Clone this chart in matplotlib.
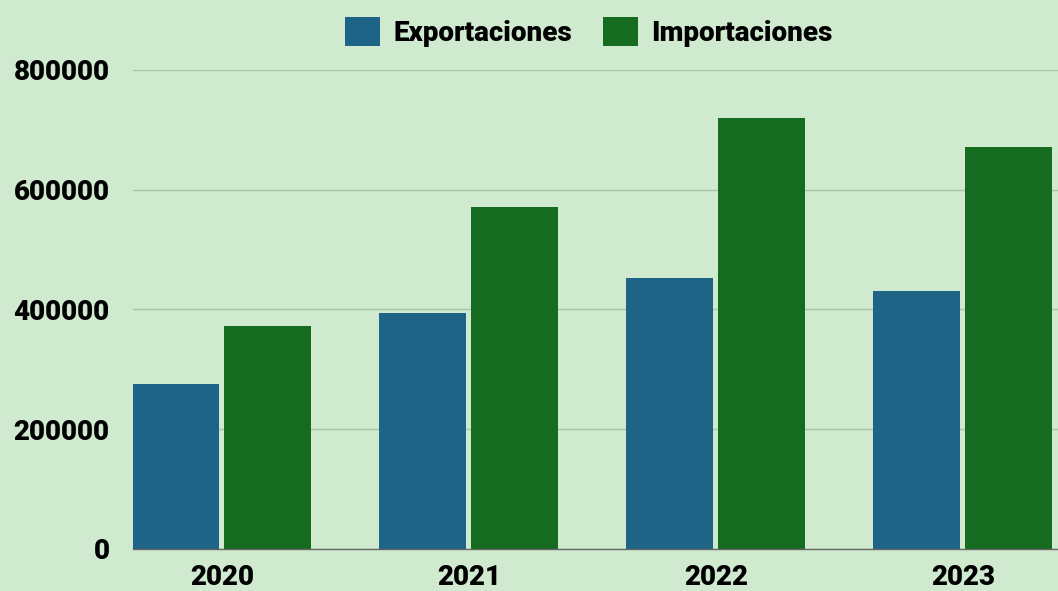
import numpy as np
import matplotlib.pyplot as plt
from matplotlib.patches import Patch

plt.rcParams['font.family'] = ['Roboto', 'DejaVu Sans']
plt.rcParams['font.weight'] = 'heavy'

years = ["2020", "2021", "2022", "2023"]
exportaciones = [275000, 394000, 452000, 431000]
importaciones = [372000, 571000, 719000, 671000]

bg = "#d0ead0"
c_exp = "#1d6487"
c_imp = "#156b1f"

fig = plt.figure(figsize=(10.58, 5.91), dpi=100, facecolor=bg)
ax = fig.add_axes([0.1257, 0.0711, 0.8743, 0.8105], facecolor=bg)

x = np.arange(len(years))
w = 0.352
off = 0.186
ax.bar(x - off, exportaciones, w, color=c_exp, zorder=3)
ax.bar(x + off, importaciones, w, color=c_imp, zorder=3)

ax.set_xlim(-0.36, 3.385)
ax.set_ylim(0, 800000)
ax.set_yticks([0, 200000, 400000, 600000, 800000])
ax.set_xticks(x)
ax.set_xticklabels(years)
ax.tick_params(axis='both', length=0, labelsize=20)
ax.tick_params(axis='y', pad=17)
ax.tick_params(axis='x', pad=11)
for lab in ax.get_xticklabels() + ax.get_yticklabels():
    lab.set_fontweight('heavy')

ax.grid(axis='y', color="#a9c3a6", linewidth=1, zorder=0)
for s in ['top', 'right', 'left']:
    ax.spines[s].set_visible(False)
ax.spines['bottom'].set_color("#666666")
ax.spines['bottom'].set_linewidth(1)
ax.spines['bottom'].set_zorder(4)

handles = [Patch(facecolor=c_exp, label="Exportaciones"),
           Patch(facecolor=c_imp, label="Importaciones")]
fig.legend(handles=handles, loc='center', bbox_to_anchor=(589 / 1058, 1 - 32 / 591),
           ncol=2, frameon=False, prop={'size': 20, 'weight': 'heavy'},
           handlelength=1.25, handleheight=1.25, handletextpad=0.5, columnspacing=1.1)

fig.savefig("out.png", dpi=100, facecolor=bg)
